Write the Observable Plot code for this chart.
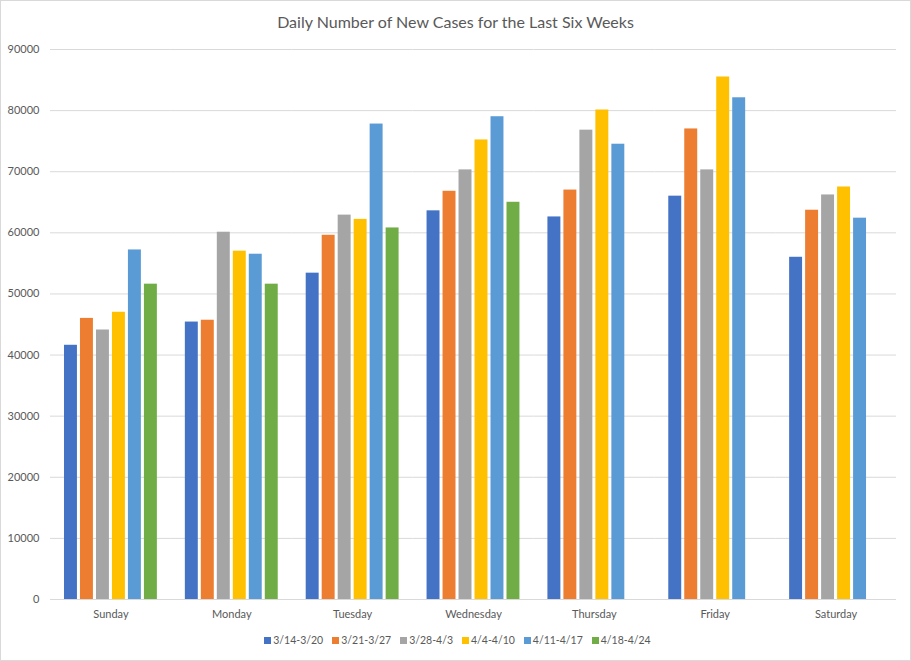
<!DOCTYPE html>
<html>
<head>
<meta charset="utf-8">
<script src="https://cdn.jsdelivr.net/npm/d3@7"></script>
<script src="https://cdn.jsdelivr.net/npm/@observablehq/plot@0.6"></script>
<style>
  body { margin: 0; background: #fff; }
  #wrap { width: 911px; height: 661px; box-sizing: border-box; border: 1px solid #d9d9d9; background: #fff; font-family: Lato, "Open Sans", sans-serif; position: relative; }
  #title { height: 39px; line-height: 41px; text-align: center; font-size: 16px; color: #595959; }
  #legend { display: flex; justify-content: center; align-items: center; gap: 9px; font-size: 10.5px; color: #595959; padding-top: 4px; padding-left: 4px; }
  .item { display: flex; align-items: center; gap: 2px; }
  .sw { width: 7px; height: 7px; display: inline-block; }
  svg { display: block; }
</style>
</head>
<body>
<div id="wrap">
  <div id="title">Daily Number of New Cases for the Last Six Weeks</div>
  <div id="chart"></div>
  <div id="legend"></div>
</div>
<script>
const days = ["Sunday", "Monday", "Tuesday", "Wednesday", "Thursday", "Friday", "Saturday"];
const weeks = ["3/14-3/20", "3/21-3/27", "3/28-4/3", "4/4-4/10", "4/11-4/17", "4/18-4/24"];
const colors = ["#4472C4", "#ED7D31", "#A5A5A5", "#FFC000", "#5B9BD5", "#70AD47"];
const yTicks = [0, 10000, 20000, 30000, 40000, 50000, 60000, 70000, 80000, 90000];

const w1 = [41600, 45400, 53400, 63600, 62600, 66000, 56000];
const w2 = [46000, 45700, 59600, 66800, 67000, 77000, 63700];
const w3 = [44100, 60100, 62900, 70300, 76800, 70300, 66200];
const w4 = [47000, 57000, 62200, 75200, 80100, 85500, 67500];
const w5 = [57200, 56500, 77800, 79000, 74500, 82100, 62400];
const w6 = [51600, 51600, 60800, 65000, null, null, null];

const seriesValues = [w1, w2, w3, w4, w5, w6];
const data = [];
days.forEach((d, i) => {
  weeks.forEach((w, j) => {
    const v = seriesValues[j][i];
    if (v != null) data.push({day: d, week: w, value: v});
  });
});

const chart = Plot.plot({
  width: 909,
  height: 590,
  marginTop: 9,
  marginBottom: 31,
  marginLeft: 49,
  marginRight: 14,
  style: {fontFamily: "Lato, 'Open Sans', sans-serif", fontSize: "11px", color: "#595959", background: "#fff"},
  fx: {domain: days, padding: 0, round: false, label: null, axis: "bottom", tickSize: 0, tickPadding: 11},
  x: {domain: weeks, paddingInner: 0.19, paddingOuter: 0.875, round: false, axis: null},
  y: {domain: [0, 90000], ticks: yTicks, label: null, tickSize: 0, tickPadding: 11, tickFormat: d => String(d)},
  color: {domain: weeks, range: colors},
  marks: [
    Plot.gridY(yTicks, {stroke: "#d9d9d9", strokeOpacity: 1}),
    Plot.ruleY([0], {stroke: "#d9d9d9", strokeWidth: 1}),
    Plot.barY(data, {fx: "day", x: "week", y: "value", fill: "week"})
  ]
});
document.getElementById("chart").appendChild(chart);

const legend = document.getElementById("legend");
weeks.forEach((w, j) => {
  const it = document.createElement("div");
  it.className = "item";
  const sw = document.createElement("span");
  sw.className = "sw";
  sw.style.background = colors[j];
  const t = document.createElement("span");
  t.textContent = w;
  it.appendChild(sw);
  it.appendChild(t);
  legend.appendChild(it);
});
</script>
</body>
</html>
